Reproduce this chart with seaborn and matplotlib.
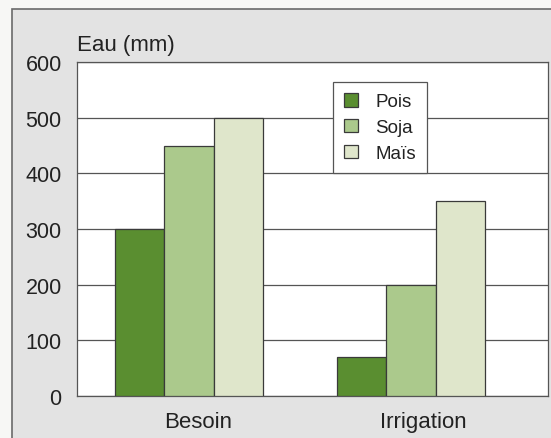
#!/usr/bin/env python3
# Water need vs irrigation per crop, grouped bars.

import pandas as pd
import seaborn as sns
import matplotlib
matplotlib.use('Agg')
import matplotlib.pyplot as plt
from matplotlib.patches import Rectangle

# Data.
categories = ["Besoin", "Irrigation"]
crops = ["Pois", "Soja", "Maïs"]
pois = [300, 70]
soja = [450, 200]
mais = [500, 350]
yticks = [0, 100, 200, 300, 400, 500, 600]

colors = {"Pois": "#5a8e30", "Soja": "#abc98c", "Maïs": "#dfe6cb"}

rows = []
for crop, vals in zip(crops, [pois, soja, mais]):
    for cat, v in zip(categories, vals):
        rows.append({"cat": cat, "crop": crop, "eau": v})
df = pd.DataFrame(rows)

sns.set_style("white")
plt.rcParams['font.family'] = ['Liberation Sans', 'DejaVu Sans']

fig = plt.figure(figsize=(5.51, 4.39), dpi=100)
fig.patch.set_facecolor("#f7f7f5")
# grey panel with a frame, as in the scan
panel = Rectangle((12 / 551, -0.1), 1.2, 1 - 10 / 439 + 0.1,
                  transform=fig.transFigure, facecolor="#e3e3e3",
                  edgecolor="#6a6a6a", linewidth=1.2, zorder=-10)
fig.add_artist(panel)

ax = fig.add_axes([77 / 551, 1 - 397 / 439, (548 - 77) / 551, (397 - 63) / 439])
ax.set_zorder(5)
ax.set_facecolor("white")

sns.barplot(data=df, x="cat", y="eau", hue="crop", hue_order=crops,
            palette=colors, width=0.67, gap=0, edgecolor="#3a3a3a",
            linewidth=0.9, saturation=1, ax=ax, zorder=3)

ax.set_xlim(-0.505, 1.617)
ax.set_ylim(0, 600)
ax.set_yticks(yticks)
ax.set_yticklabels([str(t) for t in yticks], fontsize=15.5, color="#222222")
ax.yaxis.grid(True, color="#555555", linewidth=0.9, zorder=0)
ax.set_axisbelow(True)

# category labels sit a bit right of the bar groups in the original
ax.set_xticks([0.04, 1.055])
ax.set_xticklabels(categories, fontsize=16, color="#222222")
ax.set_xticks([0.5], minor=True)
ax.tick_params(axis="x", which="major", length=0, pad=11)
ax.tick_params(axis="x", which="minor", length=5, color="#555555", direction="out")
ax.tick_params(axis="y", length=8, color="#555555", direction="out", pad=3)

for side in ["left", "right", "top", "bottom"]:
    ax.spines[side].set_visible(True)
    ax.spines[side].set_color("#555555")
    ax.spines[side].set_linewidth(0.9)

ax.set_xlabel("")
ax.set_ylabel("")
fig.text(77 / 551, 1 - 45 / 439, "Eau (mm)", fontsize=16, color="#222222",
         va="center", ha="left")

leg = ax.legend(loc="upper left", bbox_to_anchor=((333 - 77) / 471, (397 - 83) / 334),
                fontsize=13.5, frameon=True, fancybox=False, borderpad=0.6,
                handlelength=0.72, handleheight=0.72, handletextpad=0.95,
                labelspacing=0.45, borderaxespad=0)
leg.get_frame().set_edgecolor("#555555")
leg.get_frame().set_linewidth(0.9)
leg.get_frame().set_facecolor("white")
leg.get_frame().set_alpha(1)
for t in leg.get_texts():
    t.set_color("#222222")

fig.savefig("out.png", dpi=100, facecolor=fig.get_facecolor())
plt.close()
